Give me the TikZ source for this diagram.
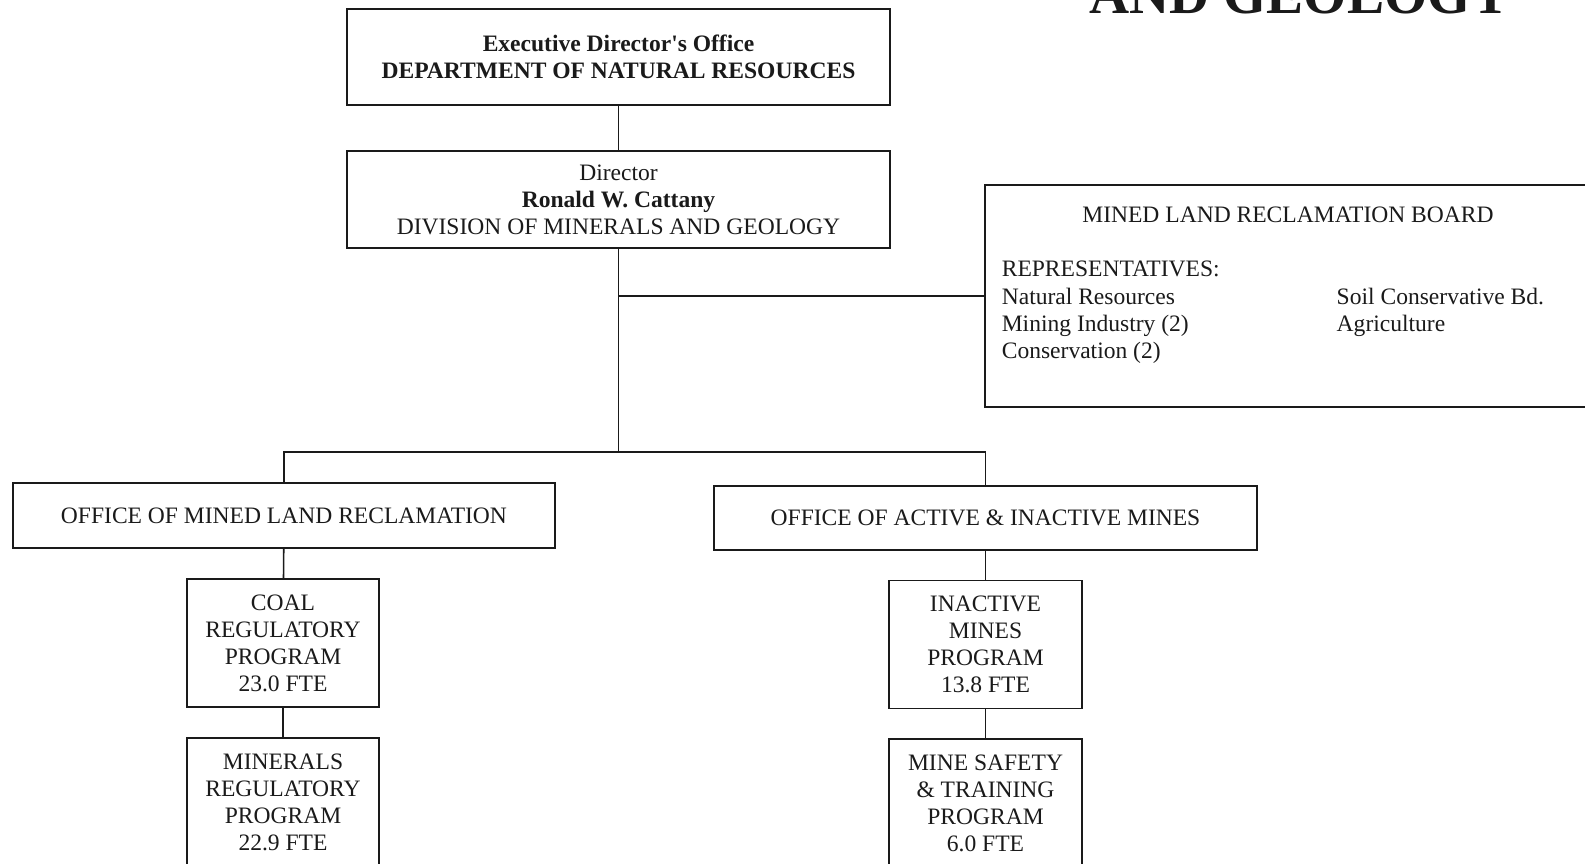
\documentclass[tikz,border=0pt]{standalone}
\usepackage{fontspec}
\setmainfont{Liberation Serif}
\usetikzlibrary{positioning}
\definecolor{cink}{HTML}{1A1A1A}
\tikzset{
  every picture/.style={line width=0.9pt},
  orgbox/.style={draw=cink, text=cink, align=center, inner sep=0pt, outer sep=0pt, font=\fontsize{13.4}{15.4}\selectfont},
  wide/.style={orgbox, minimum width=10.86cm, minimum height=#1},
  prog/.style={orgbox, minimum width=3.85cm, minimum height=2.56cm},
  link/.style={draw=cink, line width=0.9pt},
  bigtitle/.style={font=\fontsize{31.6}{34}\selectfont\bfseries, text=cink, inner sep=0pt},
  boardtext/.style={font=\fontsize{13.4}{15.4}\selectfont, text=cink, inner sep=0pt},
}

\begin{document}
\begin{tikzpicture}[x=0.02cm, y=-0.02cm]
  \useasboundingbox (0,0) rectangle (1585,864);
  % title, cut by the top edge
  \node[bigtitle, anchor=base] (title) at (1300,14) {AND GEOLOGY};
  % head of the chart
  \node[wide=1.92cm] (exec) at (618.5,57) {\textbf{Executive Director\textquotesingle s Office}\\\textbf{DEPARTMENT OF NATURAL RESOURCES}};
  \node[wide=1.94cm] (dir) at (618.5,199.5) {Director\\\textbf{Ronald W. Cattany}\\DIVISION OF MINERALS AND GEOLOGY};
  % board, runs past the right edge
  \node[orgbox, minimum width=12.14cm, minimum height=4.44cm] (board) at (1288.5,296) {};
  \node[boardtext] (boardname) at (1288,215) {MINED LAND RECLAMATION BOARD};
  \node[boardtext, anchor=base west] (reps) at (1001,277) {%
    \begin{tabular}[t]{@{}p{6.7cm}@{}l@{}}
      REPRESENTATIVES: & \\
      Natural Resources & Soil Conservative Bd.\\
      Mining Industry (2) & Agriculture\\
      Conservation (2) &
    \end{tabular}};
  % offices and programs
  \node[wide=1.3cm, minimum width=10.84cm] (mlr) at (284,515.5) {OFFICE OF MINED LAND RECLAMATION};
  \node[wide=1.28cm] (aim) at (985.5,518) {OFFICE OF ACTIVE \& INACTIVE MINES};
  \node[prog] (coal) at (283,643) {COAL\\REGULATORY\\PROGRAM\\23.0 FTE};
  \node[prog] (minreg) at (283,802) {MINERALS\\REGULATORY\\PROGRAM\\22.9 FTE};
  \node[prog] (inact) at (985.5,644.5) {INACTIVE\\MINES\\PROGRAM\\13.8 FTE};
  \node[prog] (safety) at (985.5,803) {MINE SAFETY\\\& TRAINING\\PROGRAM\\6.0 FTE};
  % connectors
  \coordinate (bar) at (618.5,452);
  \draw[link] (exec) -- (dir);
  \draw[link] (dir.south) -- (bar);
  \draw[link] (dir.south |- board.west) -- (board.west);
  \draw[link] (mlr.north) -- (mlr.north |- bar) -- (aim.north |- bar) -- (aim.north);
  \draw[link] (mlr) -- (coal);
  \draw[link] (coal) -- (minreg);
  \draw[link] (aim) -- (inact);
  \draw[link] (inact) -- (safety);
\end{tikzpicture}
\end{document}
